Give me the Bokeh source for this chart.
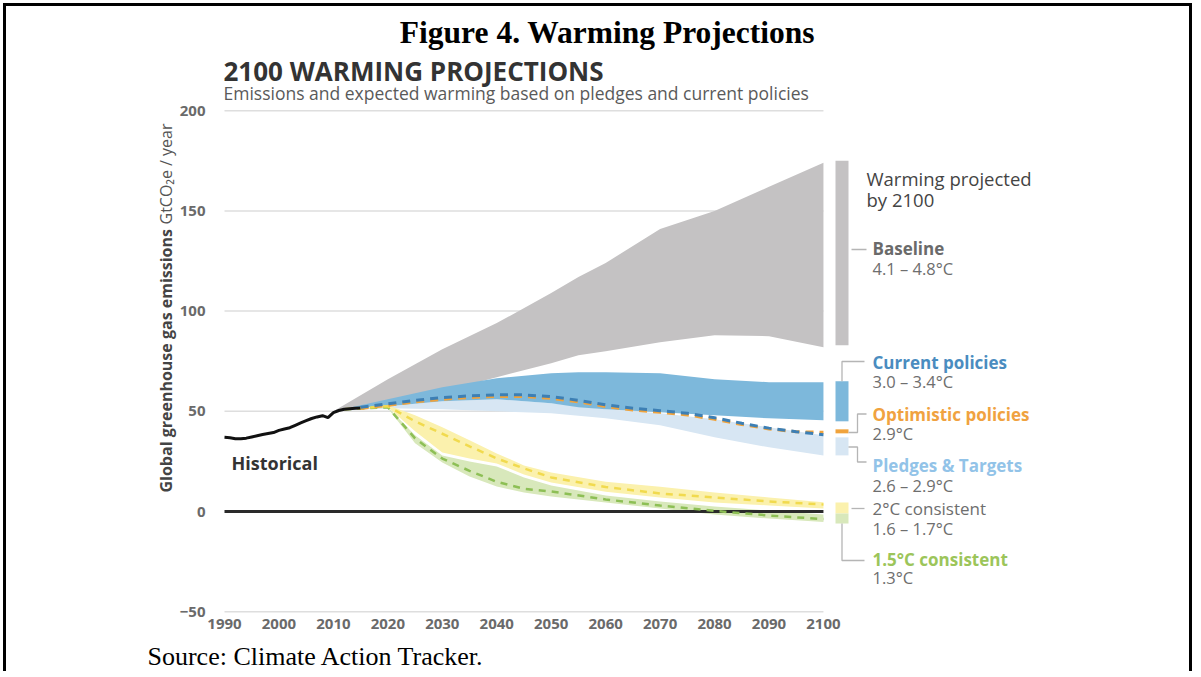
import math
from bokeh.plotting import figure
from bokeh.models import Label, FixedTicker, Range1d
from bokeh.embed import file_html
from bokeh.resources import INLINE

# ---------------- data ----------------
x_ticks = [1990, 2000, 2010, 2020, 2030, 2040, 2050, 2060, 2070, 2080, 2090, 2100]
y_ticks = [-50, 0, 50, 100, 150, 200]

hist_years = list(range(1990, 2016))
hist_vals = [37.0, 36.8, 36.3, 36.3, 36.6, 37.2, 37.8, 38.4, 38.9, 39.4, 40.5, 41.2, 41.8,
             43.0, 44.2, 45.3, 46.4, 47.2, 47.8, 46.8, 49.3, 50.4, 51.0, 51.3, 51.5, 51.6]

base_years = [2010, 2020, 2030, 2040, 2050, 2055, 2060, 2070, 2080, 2090, 2100]
base_hi = [50, 66, 81, 94, 109, 117, 124, 141, 150, 162, 174]
base_lo = [50, 54, 60, 67, 74, 78, 80, 84.5, 88, 87.5, 82]

cp_years = [2010, 2020, 2030, 2040, 2050, 2055, 2060, 2070, 2080, 2090, 2100]
cp_hi = [50, 56, 62, 66.5, 69, 69.5, 69.5, 69, 66, 64.5, 64.5]
cp_lo = [50, 52.5, 55, 56, 54, 52, 51, 49.5, 48, 46.5, 45.5]

pl_years = [2010, 2020, 2030, 2040, 2050, 2060, 2070, 2080, 2090, 2100]
pl_hi = [50, 52.5, 55, 56, 54, 51, 49, 46, 42, 38]
pl_lo = [50, 51.5, 51, 50, 49, 46.5, 43, 37, 32, 28]

line_years = [2015, 2020, 2025, 2030, 2035, 2040, 2045, 2050, 2055, 2060, 2065, 2070,
              2075, 2080, 2085, 2090, 2095, 2100]
cp_mid = [52.0, 53.7, 55.5, 56.8, 57.7, 58.2, 58.2, 57.3, 55.5, 53.2, 51.5, 50.3,
          49.0, 46.8, 44.0, 41.6, 39.8, 38.3]
opt_mid = [51.4, 53.0, 54.7, 56.0, 56.9, 57.4, 57.4, 56.5, 54.7, 52.4, 50.7, 49.5,
           48.2, 46.0, 43.4, 41.2, 39.8, 39.5]

lo_years = [2012, 2020, 2025, 2030, 2035, 2040, 2045, 2050, 2060, 2070, 2080, 2090, 2100]
c2_hi = [51, 53, 48, 42, 35.5, 29, 23, 19.5, 14.8, 12.3, 9.5, 7, 4.6]
c2_mid = [51, 52.5, 45, 38.8, 32.5, 26.5, 21.5, 17, 12.2, 9, 7, 5, 3.5]
c2_lo = [51, 52, 40, 29.5, 26.5, 24, 18.5, 14.5, 9.8, 7, 4.5, 3, 1.5]
c15_hi = [51, 52, 38, 28, 25, 22.5, 17, 13, 8, 5, 2.5, 0.5, -1.5]
c15_mid = [51, 52, 36.5, 26.4, 20.3, 14.8, 11.3, 10, 6, 3, 0.3, -2, -3.8]
c15_lo = [51, 51.5, 34, 24.5, 17.5, 12.5, 9.5, 7.5, 4.5, 1.5, -1.5, -3.5, -5.3]

scen_names = ["Baseline", "Current policies", "Optimistic policies", "Pledges & Targets",
              "2°C consistent", "1.5°C consistent"]
scen_temps = ["4.1 – 4.8°C", "3.0 – 3.4°C", "2.9°C", "2.6 – 2.9°C", "1.6 – 1.7°C", "1.3°C"]
bar_lo = [83, 45, 39, 28, -1, -6]
bar_hi = [175, 65, 41, 37, 4.5, -1]

# ---------------- styling ----------------
C_GRAY = "#c4c2c3"
C_BLUE = "#7db8db"
C_BLUE_D = "#3d7fb4"
C_ORANGE = "#f0a33c"
C_LBLUE = "#d7e6f3"
C_YEL = "#fbf1ad"
C_YEL_D = "#f1da4e"
C_GRN = "#d8e8bb"
C_GRN_D = "#8dbf55"
bar_colors = [C_GRAY, C_BLUE, C_ORANGE, C_LBLUE, C_YEL, C_GRN]
name_colors = ["#6a6a6a", "#4a8cc0", "#f0a240", "#92c3e8", "#6e6e6e", "#9cc55a"]
name_styles = ["bold", "bold", "bold", "bold", "normal", "bold"]

FONT = "Open Sans"
W, H = 1189, 668
OFF = 6  # margin + border (page pixels of canvas origin)
PXY = 5.445   # px per year
PYV = 2.004   # px per unit


def xs(px):   # page x pixel -> year
    return 1990 + (px - 224) / PXY


def ys(py):   # page y pixel -> value
    return (511 - py) / PYV


# frame covers the whole canvas
p = figure(width=W, height=H, output_backend="svg", toolbar_location=None,
           x_range=Range1d(xs(OFF), xs(OFF + W)), y_range=Range1d(ys(OFF + H), ys(OFF)),
           min_border=0, min_border_left=0, min_border_right=0,
           min_border_top=0, min_border_bottom=0)
p.styles = {"border-top": "3px solid #000", "border-left": "3px solid #000",
            "border-right": "3px solid #000", "margin-left": "3px", "margin-top": "3px"}
p.outline_line_color = None
p.grid.visible = False
p.background_fill_color = "white"
p.border_fill_color = "white"

for ax in (p.xaxis, p.yaxis):
    ax.axis_line_color = None
    ax.major_tick_line_color = None
    ax.minor_tick_line_color = None
    ax.major_tick_out = 0
    ax.major_tick_in = 0
    ax.major_label_text_font = FONT
    ax.major_label_text_font_size = "15px"
    ax.major_label_text_color = "#6a6a6a"
    ax.major_label_text_font_style = "bold"
p.xaxis.ticker = FixedTicker(ticks=x_ticks)
p.yaxis.ticker = FixedTicker(ticks=y_ticks)
# pull the tick labels inward so they sit where the reference shows them
p.xaxis.major_label_standoff = -(OFF + H - 618)
p.yaxis.major_label_standoff = -(205 - OFF)

# gridlines
gy = [t for t in y_ticks if t != 0]
p.segment(x0=[x_ticks[0]] * len(gy), x1=[x_ticks[-1]] * len(gy), y0=gy, y1=gy,
          line_color="#dedede", line_width=1.5)

# bands
p.varea(x=base_years, y1=base_lo, y2=base_hi, fill_color=C_GRAY)
p.varea(x=pl_years, y1=pl_lo, y2=pl_hi, fill_color=C_LBLUE)
p.varea(x=cp_years, y1=cp_lo, y2=cp_hi, fill_color=C_BLUE)
p.varea(x=lo_years, y1=c2_lo, y2=c2_hi, fill_color=C_YEL)
p.varea(x=lo_years, y1=c15_lo, y2=c15_hi, fill_color=C_GRN)

# zero line
p.segment(x0=[x_ticks[0]], x1=[x_ticks[-1]], y0=[0], y1=[0], line_color="#2a2a2a", line_width=3)

# dashed lines
p.line(lo_years, c15_mid, line_color=C_GRN_D, line_width=2.5, line_dash="7 6")
p.line(lo_years, c2_mid, line_color=C_YEL_D, line_width=2.5, line_dash="7 6")
p.line(hist_years, hist_vals, line_color="#111111", line_width=3)
p.line(line_years, opt_mid, line_color=C_ORANGE, line_width=3, line_dash="8 6")
p.line(line_years, cp_mid, line_color=C_BLUE_D, line_width=3, line_dash="8 6")

# right-side bars
p.quad(left=xs(835), right=xs(848), bottom=bar_lo, top=bar_hi,
       fill_color=bar_colors, line_color=None)

# connectors
conn_x = [
    [xs(851), xs(866)],
    [xs(841.5), xs(841.5), xs(864)],
    [xs(848), xs(857), xs(857), xs(866)],
    [xs(848), xs(857), xs(857), xs(866)],
    [xs(851), xs(864)],
    [xs(841.5), xs(841.5), xs(864)],
]
conn_y = [
    [ys(249), ys(249)],
    [bar_hi[1], ys(361), ys(361)],
    [ys(432), ys(432), ys(413.5), ys(413.5)],
    [ys(446.5), ys(446.5), ys(461.5), ys(461.5)],
    [ys(508), ys(508)],
    [bar_lo[5], ys(560), ys(560)],
]
p.multi_line(xs=conn_x, ys=conn_y, line_color="#b5b5b5", line_width=1.3)


def lab(X, Y, text, size, color, style="normal", font=FONT, align="left", angle=0):
    p.add_layout(Label(x=xs(X), y=ys(Y), text=text, text_font=font, text_font_size=size,
                       text_color=color, text_font_style=style, text_align=align,
                       text_baseline="middle", angle=angle))


# scenario labels
name_y = [248, 362, 414, 465, 508, 559]
temp_y = [268, 381, 433, 485, 528, 577]
for i in range(len(scen_names)):
    lab(872, name_y[i], scen_names[i], "17px", name_colors[i], name_styles[i])
    lab(872, temp_y[i], scen_temps[i], "16.5px", "#6e6e6e")

lab(866, 178, "Warming projected", "18.5px", "#444444")
lab(866, 199, "by 2100", "18.5px", "#444444")

lab(231, 462, "Historical", "18px", "#333333", "bold")

# titles
lab(607, 32, "Figure 4. Warming Projections", "31.5px", "#000000", "bold",
    font="Liberation Serif", align="center")
lab(223, 70, "2100 WARMING PROJECTIONS", "26px", "#333333", "bold")
lab(223, 92, "Emissions and expected warming based on pledges and current policies",
    "17.5px", "#5a5a5a")
lab(147, 656, "Source: Climate Action Tracker.", "26px", "#000000",
    font="Liberation Serif")

# y-axis title (rotated)
lab(165, 492, "Global greenhouse gas emissions", "16px", "#444444", "bold",
    angle=math.pi / 2)
lab(165, 224, "GtCO₂e / year", "16px", "#555555", angle=math.pi / 2)

open("out.html", "w").write(file_html(p, INLINE))
